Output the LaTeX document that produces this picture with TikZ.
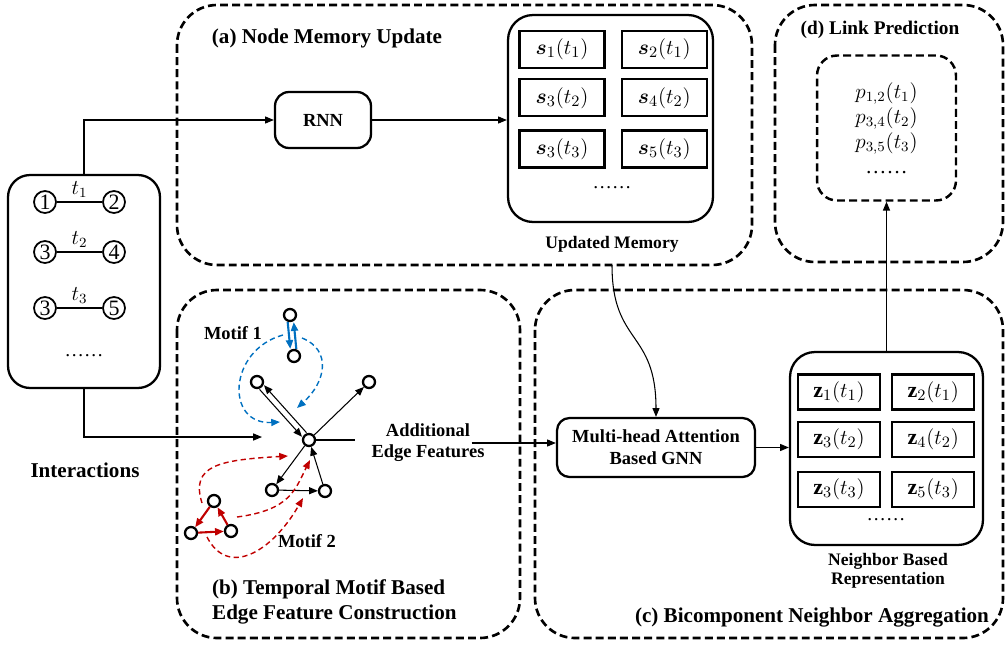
\documentclass[tikz,border=0pt]{standalone}
\usepackage{fontspec}
\setmainfont{Liberation Serif}
\usepackage{bm}
\usepackage{tikz}
\usetikzlibrary{arrows.meta,positioning}
\definecolor{mfblue}{RGB}{0,112,192}
\definecolor{mfred}{RGB}{192,0,0}

\begin{document}
\begin{tikzpicture}[
  x=0.02cm, y=-0.02cm,
  node distance=0.2cm and 0.3cm,
  panel/.style={draw, line width=1.5pt, dash pattern=on 4.5pt off 2.4pt,
    rounded corners=0.8cm},
  title/.style={font=\fontsize{12}{14}\selectfont\bfseries, align=left},
  lab/.style={font=\fontsize{10.5}{12}\selectfont\bfseries, align=center},
  block/.style={draw, line width=1.3pt, rounded corners=5pt, align=center,
    font=\fontsize{10.5}{12.5}\selectfont\bfseries},
  store/.style={draw, line width=1.3pt, rounded corners=0.5cm},
  cell/.style={draw, line width=1.3pt, minimum width=1.7cm, minimum height=0.74cm,
    inner sep=0pt, font=\fontsize{12.5}{14}\selectfont},
  zcell/.style={cell, minimum width=1.64cm, minimum height=0.7cm},
  predbox/.style={panel, line width=1.4pt, rounded corners=0.4cm, align=center,
    minimum width=2.78cm, minimum height=2.9cm, font=\fontsize{12}{14.2}\selectfont},
  ent/.style={circle, draw, line width=1pt, minimum size=0.44cm, inner sep=0pt,
    font=\fontsize{12.5}{12.5}\selectfont},
  vtx/.style={circle, draw, line width=1.3pt, fill=white, minimum size=0.24cm,
    inner sep=0pt},
  arr/.style={-{Triangle[length=5pt,width=4pt]}, line width=0.6pt},
  motifa/.style={-{Triangle[length=5pt,width=4pt]}, line width=1.2pt, mfblue},
  motifb/.style={-{Triangle[length=5pt,width=4pt]}, line width=1.2pt, mfred},
  hint/.style={-{Triangle[length=5pt,width=4pt]}, line width=0.8pt,
    dash pattern=on 3pt off 2pt}
]
  \useasboundingbox (0,0) rectangle (1008,646);

  % dashed stage panels
  \draw[panel] (177,5) rectangle (752,265);
  \draw[panel] (177,290) rectangle (520,638);
  \draw[panel] (535,290) rectangle (1003,638);
  \draw[panel] (775,5) rectangle (1003,262);

  \node[title] (ttla) at (327,38) {(a) Node Memory Update};
  \node[title, anchor=west] (ttlb) at (206,602) {(b) Temporal Motif Based\\Edge Feature Construction};
  \node[title] (ttlc) at (812,618) {(c) Bicomponent Neighbor Aggregation};
  \node[title, font=\fontsize{11}{13}\selectfont\bfseries] (ttld) at (880,30) {(d) Link Prediction};

  % interactions
  \node[store, rounded corners=0.44cm, minimum width=3.04cm, minimum height=4.26cm] (inter) at (84,281.5) {};
  \node[ent] (n1) at (45,202) {1};
  \node[ent] (n2) at (114,202) {2};
  \node[ent] (n3) at (45,252) {3};
  \node[ent] (n4) at (114,252) {4};
  \node[ent] (n3b) at (45,308) {3};
  \node[ent] (n5) at (114,308) {5};
  \draw[line width=1pt] (n1) -- node[above=-1.5pt, font=\fontsize{12}{12}\selectfont] {$t_1$} (n2);
  \draw[line width=1pt] (n3) -- node[above=-1.5pt, font=\fontsize{12}{12}\selectfont] {$t_2$} (n4);
  \draw[line width=1pt] (n3b) -- node[above=-1.5pt, font=\fontsize{12}{12}\selectfont] {$t_3$} (n5);
  \node[font=\fontsize{11}{11}\selectfont] (idots) at (84,356) {\ldots\ldots};
  \node[title] (ilab) at (85,470) {Interactions};

  % memory update
  \node[block, minimum width=1.92cm, minimum height=1.12cm, rounded corners=8pt] (rnn) at (323,120) {RNN};
  \node[store, minimum width=4.1cm, minimum height=4.14cm] (mem) at (610.5,118.5) {};
  \node[cell] (s1) at (562,49.5) {$\bm{s}_1(t_1)$};
  \node[cell, right=of s1] (s2) {$\bm{s}_2(t_1)$};
  \node[cell, below=0.18cm of s1] (s3) {$\bm{s}_3(t_2)$};
  \node[cell, right=of s3] (s4) {$\bm{s}_4(t_2)$};
  \node[cell, below=0.24cm of s3] (s3b) {$\bm{s}_3(t_3)$};
  \node[cell, right=of s3b] (s5) {$\bm{s}_5(t_3)$};
  \node[font=\fontsize{11}{11}\selectfont] (mdots) at (612,188) {\ldots\ldots};
  \node[lab, font=\fontsize{10}{12}\selectfont\bfseries] (memlab) at (612,244) {Updated Memory};
  \coordinate (memout) at (612,265);

  \draw[arr] (inter.north) |- (rnn.west);
  \draw[arr] (rnn.east) -- (rnn.east -| mem.west);

  % link prediction
  \node[predbox] (pred) at (886.5,128) {$p_{1,2}(t_1)$\\$p_{3,4}(t_2)$\\$p_{3,5}(t_3)$\\\ldots\ldots};

  % motif graph
  \node[vtx] (ctr) at (309,440) {};
  \node[vtx] (ul) at (257,382) {};
  \node[vtx] (ur) at (369,382) {};
  \node[vtx] (dl) at (272,490) {};
  \node[vtx] (dr) at (325,491) {};
  \node[vtx] (ma) at (290,315) {};
  \node[vtx] (mb) at (294,356) {};
  \node[vtx] (ta) at (214,501) {};
  \node[vtx] (tb) at (191,533) {};
  \node[vtx] (tc) at (231,531) {};

  \draw[arr, transform canvas={shift={(2.2,-2.1)}}] (ctr) -- (ul);
  \draw[arr, transform canvas={shift={(-2.2,2.1)}}] (ul) -- (ctr);
  \draw[arr] (ctr) -- (ur);
  \draw[arr] (ctr) -- (dl);
  \draw[arr] (dl) -- (dr);
  \draw[arr] (dr) -- (ctr);

  \draw[motifa, transform canvas={shift={(-3,0)}}] (ma) -- (mb);
  \draw[motifa, transform canvas={shift={(3,0)}}] (mb) -- (ma);
  \draw[motifb] (ta) -- (tb);
  \draw[motifb] (tb) -- (tc);
  \draw[motifb] (tc) -- (ta);

  % where the motifs map onto the graph
  \draw[hint, mfblue] (283,335) .. controls (228,350) and (225,425) .. (280,422);
  \draw[hint, mfblue] (302,338) .. controls (332,350) and (326,382) .. (297,408);
  \draw[hint, mfred] (202,503) .. controls (190,465) and (220,460) .. (288,456);
  \draw[hint, mfred] (237,517) .. controls (290,510) and (295,490) .. (310,460);
  \draw[hint, mfred] (207,537) .. controls (228,578) and (272,552) .. (303,498);

  \node[lab] (mlab1) at (233,333) {Motif 1};
  \node[lab] (mlab2) at (307,541) {Motif 2};

  \coordinate (motifin) at (262,437);
  \draw[arr] (inter.south) |- (motifin);

  % neighbor aggregation
  \node[block, minimum width=3.96cm, minimum height=1.18cm, rounded corners=0.25cm] (gnn) at (656,447.5) {Multi-head Attention\\Based GNN};
  \node[store, minimum width=3.86cm, minimum height=3.86cm] (nbr) at (886.5,448.5) {};
  \node[zcell] (z1) at (839,392) {$\mathbf{z}_1(t_1)$};
  \node[zcell, right=0.2cm of z1] (z2) {$\mathbf{z}_2(t_1)$};
  \node[zcell, below=0.2cm of z1] (z3) {$\mathbf{z}_3(t_2)$};
  \node[zcell, right=0.2cm of z3] (z4) {$\mathbf{z}_4(t_2)$};
  \node[zcell, below=0.26cm of z3] (z3b) {$\mathbf{z}_3(t_3)$};
  \node[zcell, right=0.2cm of z3b] (z5) {$\mathbf{z}_5(t_3)$};
  \node[font=\fontsize{11}{11}\selectfont] (ndots) at (886,520) {\ldots\ldots};
  \node[lab, font=\fontsize{10}{11}\selectfont\bfseries] (nbrlab) at (888,571) {Neighbor Based\\Representation};

  \node[lab, inner xsep=1pt] (feat) at (428,443) {Additional\\Edge Features};
  \draw[line width=0.6pt] (ctr) -- ([xshift=-8pt]ctr -| feat.west);
  \draw[arr] ([xshift=-8.5pt]feat.east) -- (feat.east -| gnn.west);
  \draw[arr] (memout) .. controls (612,345) and (656,330) .. (gnn.north);
  \draw[arr] (gnn.east) -- (gnn.east -| nbr.west);
  \draw[arr] (nbr.north) -- (pred.south);
\end{tikzpicture}
\end{document}
